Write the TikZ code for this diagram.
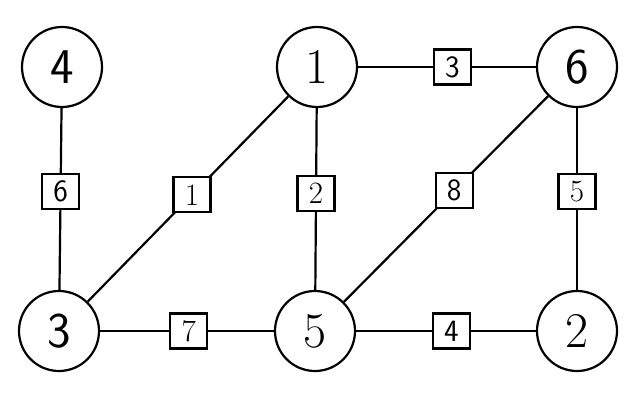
\documentclass[tikz,border=0pt]{standalone}
\tikzset{
  vtx/.style={circle, draw, line width=2.2pt, minimum size=80pt, inner sep=0pt, font=\fontsize{50}{50}\selectfont},
  lab/.style={rectangle, draw, fill=white, line width=2.2pt, minimum width=37pt, minimum height=35pt, inner sep=0pt, font=\fontsize{31}{31}\selectfont},
  edge/.style={line width=2.2pt},
  sf/.style={font=\fontsize{50}{50}\selectfont\sffamily},
  sfl/.style={font=\fontsize{31}{31}\selectfont\sffamily}
}
\begin{document}
\begin{tikzpicture}[x=1pt,y=-1pt]
\useasboundingbox (0,0) rectangle (640,396);
\node[vtx,sf] (v4) at (62,67) {4};
\node[vtx] (v1) at (317,67) {1};
\node[vtx,sf] (v6) at (577,67) {6};
\node[vtx,sf] (v3) at (59,331) {3};
\node[vtx] (v5) at (315,331) {5};
\node[vtx] (v2) at (577,331) {2};

\draw[edge] (v4) -- node[lab,sfl,pos=0.46] (l6) {6} (v3);
\draw[edge] (v1) -- node[lab,pos=0.48] (l1) {1} (v3);
\draw[edge] (v1) -- node[lab,pos=0.47] (l2) {2} (v5);
\draw[edge] (v6) -- node[lab,sfl,pos=0.46] (l8) {8} (v5);
\draw[edge] (v6) -- node[lab,pos=0.46] (l5) {5} (v2);
\draw[edge] (v1) -- node[lab,sfl,pos=0.53] (l3) {3} (v6);
\draw[edge] (v3) -- node[lab,pos=0.51] (l7) {7} (v5);
\draw[edge] (v5) -- node[lab,sfl,pos=0.53] (l4) {4} (v2);
\end{tikzpicture}
\end{document}
